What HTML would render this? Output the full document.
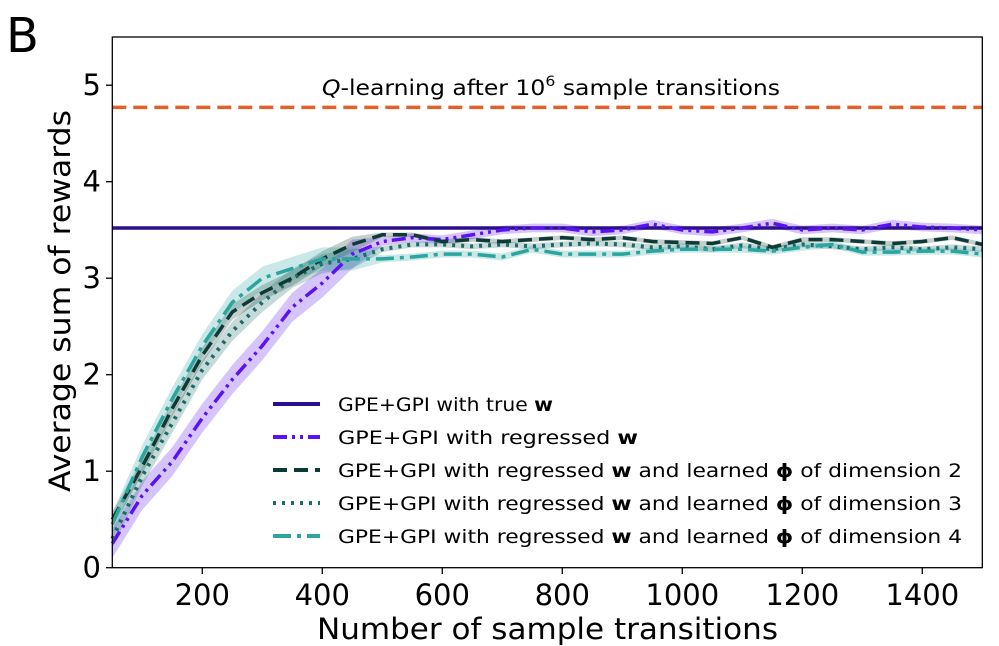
<!DOCTYPE html>
<html><head><meta charset="utf-8"><style>
body{margin:0;background:#fff;}
svg{display:block;font-family:"DejaVu Sans","Liberation Sans",sans-serif;}
</style></head><body>
<svg id="chart" width="999" height="646" viewBox="0 0 999 646" xmlns="http://www.w3.org/2000/svg">
<text x="6" y="52" font-size="48" fill="#000">B</text>
<g id="bands"></g><g id="lines"></g>
<rect x="112.3" y="37" width="870" height="530.7" fill="none" stroke="#000" stroke-width="1.3"/>
<g id="axes"></g>
<text x="322" y="95" font-size="21" textLength="458" lengthAdjust="spacingAndGlyphs"><tspan font-style="italic">Q</tspan>-learning after 10<tspan font-size="14" dy="-9">6</tspan><tspan dy="9"> sample transitions</tspan></text>
<text x="317" y="639" font-size="29" textLength="461" lengthAdjust="spacingAndGlyphs">Number of sample transitions</text>
<text transform="translate(70,492) rotate(-90)" font-size="29" textLength="382" lengthAdjust="spacingAndGlyphs">Average sum of rewards</text>
<g id="legend" font-size="19"></g>
</svg>
<script>
const xs=[50,100,150,200,250,300,350,400,450,500,550,600,650,700,750,800,850,900,950,1000,1050,1100,1150,1200,1250,1300,1350,1400,1450,1500];
const trueW=3.52;
const qLearning=4.77;
const regressed=[0.25,0.75,1.1,1.55,1.95,2.3,2.7,2.95,3.25,3.38,3.42,3.4,3.45,3.5,3.52,3.52,3.48,3.5,3.56,3.5,3.48,3.52,3.57,3.5,3.52,3.5,3.56,3.53,3.52,3.5];
const dim2=[0.5,1.05,1.65,2.2,2.65,2.85,3.0,3.2,3.35,3.45,3.45,3.38,3.4,3.38,3.4,3.42,3.4,3.42,3.38,3.37,3.36,3.42,3.32,3.4,3.4,3.38,3.36,3.38,3.42,3.35];
const dim3=[0.3,0.95,1.5,2.05,2.45,2.75,3.0,3.15,3.2,3.3,3.35,3.35,3.33,3.35,3.33,3.35,3.36,3.35,3.32,3.33,3.3,3.34,3.3,3.35,3.33,3.3,3.32,3.3,3.32,3.3];
const dim4=[0.45,1.15,1.75,2.3,2.75,3.0,3.1,3.2,3.2,3.2,3.22,3.25,3.25,3.22,3.3,3.25,3.25,3.25,3.28,3.3,3.3,3.3,3.28,3.32,3.35,3.27,3.27,3.28,3.28,3.25];
const xTicks=[200,400,600,800,1000,1200,1400];
const yTicks=[0,1,2,3,4,5];
const X=v=>112.3+(v-50)*0.6;
const Y=v=>567.7-v*96.5;
const NS="http://www.w3.org/2000/svg";
function mk(t,a,p){const e=document.createElementNS(NS,t);for(const k in a)e.setAttribute(k,a[k]);p.appendChild(e);return e;}
const bands=document.getElementById('bands'),lines=document.getElementById('lines'),axes=document.getElementById('axes'),legend=document.getElementById('legend');
const series=[
{d:regressed,c:"#5b12f2",dash:"14 5 3 5 3 5",w:3.5,name:"regressed-w",bw:0.15,label:['GPE+GPI with regressed ','w','']},
{d:dim3,c:"#1b6b66",dash:"3 6",w:4,name:"dim-3",bw:0.1,label:['GPE+GPI with regressed ','w',' and learned ','ϕ',' of dimension 3']},
{d:dim2,c:"#0e3a36",dash:"14 7",w:3.5,name:"dim-2",bw:0.08,label:['GPE+GPI with regressed ','w',' and learned ','ϕ',' of dimension 2']},
{d:dim4,c:"#2aa59f",dash:"18 6 4 6",w:3.5,name:"dim-4",bw:0.12,label:['GPE+GPI with regressed ','w',' and learned ','ϕ',' of dimension 4']}
];
series.forEach(s=>{
 const f=i=>i<9?1:0.3;
 let up=s.d.map((v,i)=>X(xs[i])+','+Y(v+s.bw*f(i)));
 let dn=s.d.map((v,i)=>X(xs[i])+','+Y(Math.max(0,v-s.bw*f(i)))).reverse();
 const b=mk('polygon',{points:up.concat(dn).join(' '),fill:s.c,'fill-opacity':0.25,stroke:'none'},bands);
 
 
});
const tl=mk('line',{x1:112.3,x2:982.3,y1:Y(trueW),y2:Y(trueW),stroke:"#2b0f8c",'stroke-width':3.5},lines);


series.forEach(s=>{
 const p=mk('polyline',{points:s.d.map((v,i)=>X(xs[i])+','+Y(v)).join(' '),fill:'none',stroke:s.c,'stroke-width':s.w,'stroke-dasharray':s.dash},lines);
 
 
});
const ql=mk('line',{x1:112.3,x2:982.3,y1:Y(qLearning),y2:Y(qLearning),stroke:"#e0622a",'stroke-width':3.5,'stroke-dasharray':'14 7'},lines);


xTicks.forEach(t=>{
 mk('line',{x1:X(t),x2:X(t),y1:567.7,y2:574,stroke:'#000','stroke-width':1.3},axes);
 const e=mk('text',{x:X(t),y:605,'font-size':29,'text-anchor':'middle'},axes);e.textContent=t;
 
 
});
yTicks.forEach(t=>{
 mk('line',{x1:106,x2:112.3,y1:Y(t),y2:Y(t),stroke:'#000','stroke-width':1.3},axes);
 const e=mk('text',{x:101,y:Y(t)+10,'font-size':29,'text-anchor':'end'},axes);e.textContent=t;
 
 
});
const leg=[
 {c:"#2b0f8c",dash:"",label:['GPE+GPI with true ','w',''],len:215},
 {c:"#5b12f2",dash:"14 5 3 5 3 5",label:series[0].label,len:300},
 {c:"#0e3a36",dash:"14 7",label:series[2].label,len:624},
 {c:"#1b6b66",dash:"3 6",label:series[1].label,len:624},
 {c:"#2aa59f",dash:"18 6 4 6",label:series[3].label,len:624}];
leg.forEach((l,i)=>{
 const y=404+i*33;
 const g=mk('g',{},legend);
 
 
 mk('line',{x1:273,x2:320,y1:y,y2:y,stroke:l.c,'stroke-width':4,'stroke-dasharray':l.dash},g);
 const t=mk('text',{x:338,y:y+7,textLength:l.len,lengthAdjust:'spacingAndGlyphs'},g);
 l.label.forEach((s,j)=>{const sp=mk('tspan',j%2?{'font-weight':'bold'}:{},t);sp.textContent=s;});
});
</script>
</body></html>
